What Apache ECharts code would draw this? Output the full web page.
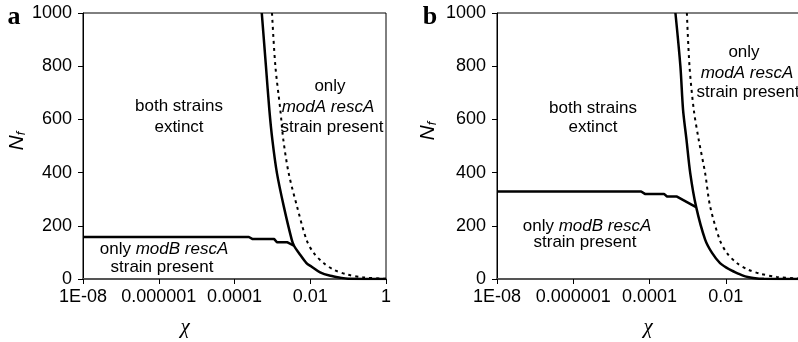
<!DOCTYPE html>
<html><head><meta charset="utf-8">
<script src="https://cdn.jsdelivr.net/npm/echarts@6/dist/echarts.min.js"></script>
<style>html,body{margin:0;padding:0;background:#fff}#c{width:798px;height:342px}</style>
</head><body><div id="c"></div><script>
// ---- data ----
const xTickLabelsA = ['1E-08', '0.000001', '0.0001', '0.01', '1'];
const xTickLabelsB = ['1E-08', '0.000001', '0.0001', '0.01', ''];

// Panel a
const aSolidChi = [5.25e-4, 6.76e-4, 8.32e-4, 1.0e-3, 1.32e-3, 2.0e-3, 3.24e-3, 3.72e-3, 5.01e-3, 7.94e-3, 1.07e-2, 1.82e-2, 3.39e-2, 6.17e-2, 1e-1, 1];
const aSolidN   = [1000, 800, 636, 523, 398, 273, 148, 125, 98, 60, 47, 25, 12, 5, 1, 0];
const aDashChi  = [9.77e-4, 1.20e-3, 1.62e-3, 1.95e-3, 2.69e-3, 4.47e-3, 7.94e-3, 1.23e-2, 2.24e-2, 4.17e-2, 9.33e-2, 0.257, 0.851, 1];
const aDashN    = [1000, 800, 636, 523, 398, 273, 148, 98, 60, 35, 17, 6, 1, 0.5];
const aModBChi  = [1e-8, 2.40e-4, 3.02e-4, 1.12e-3, 1.32e-3, 2.51e-3, 3.72e-3];
const aModBN    = [158, 158, 150, 150, 138, 138, 125];

// Panel b
const bSolidChi = [4.79e-4, 6.46e-4, 7.59e-4, 9.33e-4, 1.17e-3, 1.66e-3, 2.88e-3, 4.37e-3, 7.08e-3, 1.29e-2, 2.14e-2, 3.24e-2, 5.25e-2, 1e-1, 1];
const bSolidN   = [1000, 800, 636, 524, 398, 273, 148, 98, 60, 35, 20, 10, 4, 0.5, 0];
const bDashChi  = [9.55e-4, 1.12e-3, 1.45e-3, 1.95e-3, 2.88e-3, 3.89e-3, 6.92e-3, 1.07e-2, 1.95e-2, 3.89e-2, 7.94e-2, 0.214, 0.708, 1];
const bDashN    = [1000, 800, 636, 524, 398, 273, 148, 98, 60, 35, 20, 8, 2, 0.5];
const bModBChi  = [1e-8, 6.03e-5, 7.59e-5, 2.40e-4, 2.88e-4, 5.25e-4, 1.62e-3];
const bModBN    = [329, 329, 320, 320, 310, 310, 271];

// ---- chart ----
const zip = (xs, ys) => xs.map((x, i) => [x, ys[i]]);
const SANS = 'Liberation Sans, Arial, sans-serif';
const SERIF = 'Liberation Serif, Times New Roman, serif';

function xAxisFor(idx, labels) {
  return {
    type: 'log', logBase: 100, gridIndex: idx, min: 1e-8, max: 1,
    axisLine: { show: true, onZero: false, lineStyle: { color: '#555', width: 2 } },
    axisTick: { show: true, length: 5, lineStyle: { color: '#000', width: 1 } },
    axisLabel: {
      color: '#000', fontSize: 18, fontFamily: SANS, margin: 9,
      formatter: v => { const e = Math.round(Math.log10(v)); return labels[(e + 8) / 2] ?? ''; }
    },
    splitLine: { show: false }, minorTick: { show: false }
  };
}
function yAxisFor(idx) {
  return {
    type: 'value', gridIndex: idx, min: 0, max: 1000, interval: 200,
    axisLine: { show: true, lineStyle: { color: '#000', width: 1 } },
    axisTick: { show: true, length: 5, lineStyle: { color: '#000', width: 1 } },
    axisLabel: { color: '#000', fontSize: 18, fontFamily: SANS, margin: 11, formatter: v => String(v) },
    splitLine: { show: false }
  };
}
function line(idx, data, dashed, smooth) {
  return {
    type: 'line', xAxisIndex: idx, yAxisIndex: idx, data, showSymbol: false, symbol: 'none',
    silent: true, animation: false, clip: true, smooth: smooth || false,
    lineStyle: dashed ? { color: '#000', width: 2, type: [3, 4] } : { color: '#000', width: 2.5 }
  };
}
function txt(x, y, text, extra) {
  return Object.assign({ type: 'text', x, y, silent: true,
    style: Object.assign({ text, fill: '#000', font: '17px ' + SANS, align: 'center', verticalAlign: 'middle' }, extra || {}) });
}
const rich = { i: { fontStyle: 'italic', fontSize: 17, fontFamily: SANS } };
const nfRich = {
  n: { fontSize: 21, fontStyle: 'italic', fontFamily: SANS, fill: '#000' },
  f: { fontSize: 13, fontStyle: 'italic', fontFamily: SANS, fill: '#000', padding: [9, 0, 0, 0] }
};

const chart = echarts.init(document.getElementById('c'), null, { renderer: 'canvas' });
chart.setOption({
  animation: false,
  backgroundColor: '#fff',
  grid: [
    { left: 83, width: 303, top: 13, height: 266, outerBoundsMode: 'none', containLabel: false,
      show: true, borderColor: '#000', borderWidth: 1, backgroundColor: 'transparent' },
    { left: 497, width: 305, top: 13, height: 266, outerBoundsMode: 'none', containLabel: false,
      show: true, borderColor: '#000', borderWidth: 1, backgroundColor: 'transparent' }
  ],
  xAxis: [xAxisFor(0, xTickLabelsA), xAxisFor(1, xTickLabelsB)],
  yAxis: [yAxisFor(0), yAxisFor(1)],
  series: [
    line(0, zip(aModBChi, aModBN), false),
    line(0, zip(aSolidChi, aSolidN), false, 0.3),
    line(0, zip(aDashChi, aDashN), true, 0.3),
    line(1, zip(bModBChi, bModBN), false),
    line(1, zip(bSolidChi, bSolidN), false, 0.3),
    line(1, zip(bDashChi, bDashN), true, 0.3)
  ],
  graphic: [
    txt(14, 17, 'a', { font: 'bold 26px ' + SERIF }),
    txt(430, 17, 'b', { font: 'bold 26px ' + SERIF }),
    txt(185, 327, 'χ', { font: 'italic 21px ' + SERIF }),
    txt(648, 327, 'χ', { font: 'italic 21px ' + SERIF }),
    { type: 'text', x: 17, y: 141, rotation: Math.PI / 2, silent: true,
      style: { text: '{n|N}{f|f}', align: 'center', verticalAlign: 'middle', rich: nfRich } },
    { type: 'text', x: 428, y: 131, rotation: Math.PI / 2, silent: true,
      style: { text: '{n|N}{f|f}', align: 'center', verticalAlign: 'middle', rich: nfRich } },
    // panel a annotations
    txt(179, 106, 'both strains'),
    txt(179, 127, 'extinct'),
    txt(330, 86, 'only'),
    txt(328, 107, '{i|modA rescA}', { rich }),
    txt(332, 127, 'strain present'),
    txt(164, 249, 'only {i|modB rescA}', { rich }),
    txt(162, 267, 'strain present'),
    // panel b annotations
    txt(593, 108, 'both strains'),
    txt(593, 127, 'extinct'),
    txt(744, 52, 'only'),
    txt(747, 73, '{i|modA rescA}', { rich }),
    txt(748, 92, 'strain present'),
    txt(587, 226, 'only {i|modB rescA}', { rich }),
    txt(585, 242, 'strain present')
  ]
});
</script></body></html>
